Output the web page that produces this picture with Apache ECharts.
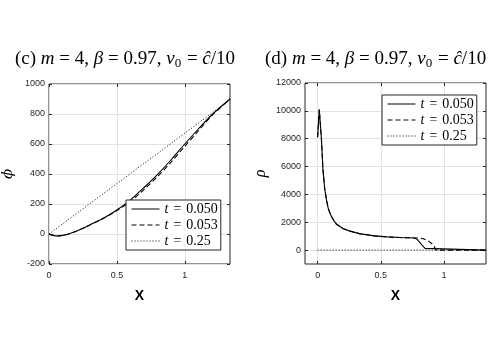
<!DOCTYPE html>
<html>
<head>
<meta charset="utf-8">
<script src="https://cdn.jsdelivr.net/npm/echarts@6/dist/echarts.min.js"></script>
<style>
  html, body { margin: 0; padding: 0; background: #fff; }
  #main { width: 498px; height: 352px; }
</style>
</head>
<body>
<div id="main"></div>
<script>
  // (c) phi over x
  const phiX = [0, 0.03, 0.06, 0.1, 0.15, 0.2, 0.25, 0.3, 0.4, 0.5, 0.6, 0.7, 0.8, 0.9, 1.0, 1.1, 1.2, 1.333]
  const phi050 = [0, -9, -13, -9, 2, 18, 38, 60, 105, 160, 228, 310, 398, 495, 600, 700, 795, 900]
  const phi053 = [0, -9, -13, -9, 2, 18, 38, 60, 104, 156, 218, 296, 384, 480, 585, 688, 790, 900]
  const phiX25 = [0, 0.5, 1.0, 1.333]
  const phi25 = [0, 336, 672, 895]

  // (d) rho over x
  const rhoX050 = [0, 0.013, 0.03, 0.042, 0.056, 0.07, 0.085, 0.108, 0.13, 0.15, 0.2, 0.25, 0.33, 0.45, 0.55, 0.65, 0.77, 0.79, 0.82, 0.85, 0.865, 1.333]
  const rho050 = [8100, 10100, 8000, 5800, 4400, 3600, 2950, 2430, 2100, 1850, 1550, 1380, 1180, 1020, 950, 900, 870, 750, 430, 120, 0, 0]
  const rhoX053 = [0, 0.013, 0.03, 0.042, 0.056, 0.07, 0.085, 0.108, 0.13, 0.15, 0.2, 0.25, 0.33, 0.45, 0.55, 0.65, 0.77, 0.8, 0.83, 0.87, 0.91, 0.94, 1.333]
  const rho053 = [8100, 10100, 8000, 5800, 4400, 3600, 2950, 2430, 2100, 1850, 1550, 1380, 1180, 1020, 950, 900, 870, 865, 830, 700, 420, 0, 0]
  const rhoX25 = [0, 1.333]
  const rho25 = [0, 0]

  const seriesNames = ['t = 0.050', 't = 0.053', 't = 0.25']
  const xTicks = [0, 0.5, 1]
  const phiTicks = [-200, 0, 200, 400, 600, 800, 1000]
  const rhoTicks = [0, 2000, 4000, 6000, 8000, 10000, 12000]

  const zip = (xs, ys) => xs.map((x, i) => [x, ys[i]])

  const ink = '#262626'
  const serif = 'Liberation Serif'
  const sans = 'Liberation Sans'

  function valueAxis (gridIndex, position, min, max, ticks, withLabels, name) {
    return {
      type: 'value',
      gridIndex: gridIndex,
      position: position,
      min: min,
      max: max,
      name: name || '',
      axisLine: {show: false, onZero: false},
      axisTick: {show: true, inside: true, length: 3, lineStyle: {color: ink}, customValues: ticks},
      axisLabel: {
        show: withLabels, customValues: ticks, fontFamily: sans, fontSize: 9, color: ink,
        margin: (position === 'bottom') ? 7 : 4,
        formatter: (v) => String(v)
      },
      splitLine: {show: withLabels, lineStyle: {color: '#e2e2e2', width: 1}}
    }
  }

  const titleRich = {
    n: {fontFamily: serif, fontSize: 19, fontWeight: 'normal', color: '#000'},
    i: {fontFamily: serif, fontSize: 19, fontWeight: 'normal', fontStyle: 'italic', color: '#000'},
    s: {fontFamily: serif, fontSize: 13, fontWeight: 'normal', color: '#000', padding: [9, 1, 0, 0]}
  }
  const titleText = (tag) => '{n|(' + tag + ') }{i|m}{n| = 4, }{i|β}{n| = 0.97, }{i|v}{s|0}{n| = }{i|ĉ}{n|/10}'

  const legendBase = {
    orient: 'vertical',
    data: seriesNames,
    itemWidth: 28,
    itemHeight: 14,
    itemGap: 2,
    padding: [2, 3, 2, 5],
    borderColor: ink,
    borderWidth: 1,
    borderRadius: 0,
    backgroundColor: '#fff',
    selectedMode: false,
    itemStyle: {opacity: 0},
    lineStyle: {width: 1},
    formatter: function (name) {
      return '{i|t}{e|=}{n|' + name.split('= ')[1] + '}'
    },
    textStyle: {
      lineHeight: 14,
      rich: {
        i: {fontFamily: serif, fontSize: 14, fontStyle: 'italic', color: '#000'},
        e: {fontFamily: serif, fontSize: 14, color: '#000', padding: [0, 5, 0, 5]},
        n: {fontFamily: serif, fontSize: 14, color: '#000'}
      }
    }
  }

  const lineStyles = [
    {color: '#000', width: 1.1, type: 'solid'},
    {color: '#000', width: 1.1, type: [5, 3]},
    {color: '#000', width: 1, type: [1, 2]}
  ]

  function line (name, idx, gridIndex, data, smooth) {
    return {
      type: 'line',
      name: name,
      xAxisIndex: gridIndex,
      yAxisIndex: gridIndex,
      data: data,
      symbol: 'none',
      smooth: smooth,
      clip: true,
      lineStyle: lineStyles[idx],
      itemStyle: {color: '#000'},
      z: 3 - idx
    }
  }

  const chart = echarts.init(document.getElementById('main'))
  chart.setOption({
    backgroundColor: '#fff',
    animation: false,
    title: [
      {left: 10, top: 43, text: titleText('c'), textStyle: {fontWeight: 'normal', rich: titleRich}},
      {left: 260, top: 43, text: titleText('d'), textStyle: {fontWeight: 'normal', rich: titleRich}}
    ],
    grid: [
      {left: 49, top: 84, width: 181, height: 180, show: true, borderColor: ink, borderWidth: 1, backgroundColor: '#fff'},
      {left: 305, top: 83, width: 181, height: 181, show: true, borderColor: ink, borderWidth: 1, backgroundColor: '#fff'}
    ],
    legend: [
      Object.assign({left: 126, top: 200}, legendBase),
      Object.assign({left: 382, top: 95}, legendBase)
    ],
    xAxis: [
      Object.assign(valueAxis(0, 'bottom', 0, 1.333, xTicks, true, 'X'), {
        nameLocation: 'middle', nameGap: 25,
        nameTextStyle: {fontFamily: sans, fontSize: 14, fontWeight: 'bold', color: '#000'}
      }),
      Object.assign(valueAxis(1, 'bottom', -0.1, 1.333, xTicks, true, 'X'), {
        nameLocation: 'middle', nameGap: 25,
        nameTextStyle: {fontFamily: sans, fontSize: 14, fontWeight: 'bold', color: '#000'}
      }),
      valueAxis(0, 'top', 0, 1.333, xTicks, false),
      valueAxis(1, 'top', -0.1, 1.333, xTicks, false)
    ],
    yAxis: [
      Object.assign(valueAxis(0, 'left', -200, 1000, phiTicks, true, 'ϕ'), {
        nameLocation: 'middle', nameGap: 33, nameRotate: 90,
        nameTextStyle: {fontFamily: 'DejaVu Serif', fontSize: 15, fontStyle: 'italic', color: '#000'}
      }),
      Object.assign(valueAxis(1, 'left', -1000, 12000, rhoTicks, true, 'ρ'), {
        nameLocation: 'middle', nameGap: 36, nameRotate: 90,
        nameTextStyle: {fontFamily: serif, fontSize: 16, fontStyle: 'italic', color: '#000'}
      }),
      valueAxis(0, 'right', -200, 1000, phiTicks, false),
      valueAxis(1, 'right', -1000, 12000, rhoTicks, false)
    ],
    series: [
      line(seriesNames[0], 0, 0, zip(phiX, phi050), 0.3),
      line(seriesNames[1], 1, 0, zip(phiX, phi053), 0.3),
      line(seriesNames[2], 2, 0, zip(phiX25, phi25), false),
      line(seriesNames[0], 0, 1, zip(rhoX050, rho050), false),
      line(seriesNames[1], 1, 1, zip(rhoX053, rho053), false),
      line(seriesNames[2], 2, 1, zip(rhoX25, rho25), false)
    ]
  })
</script>
</body>
</html>
